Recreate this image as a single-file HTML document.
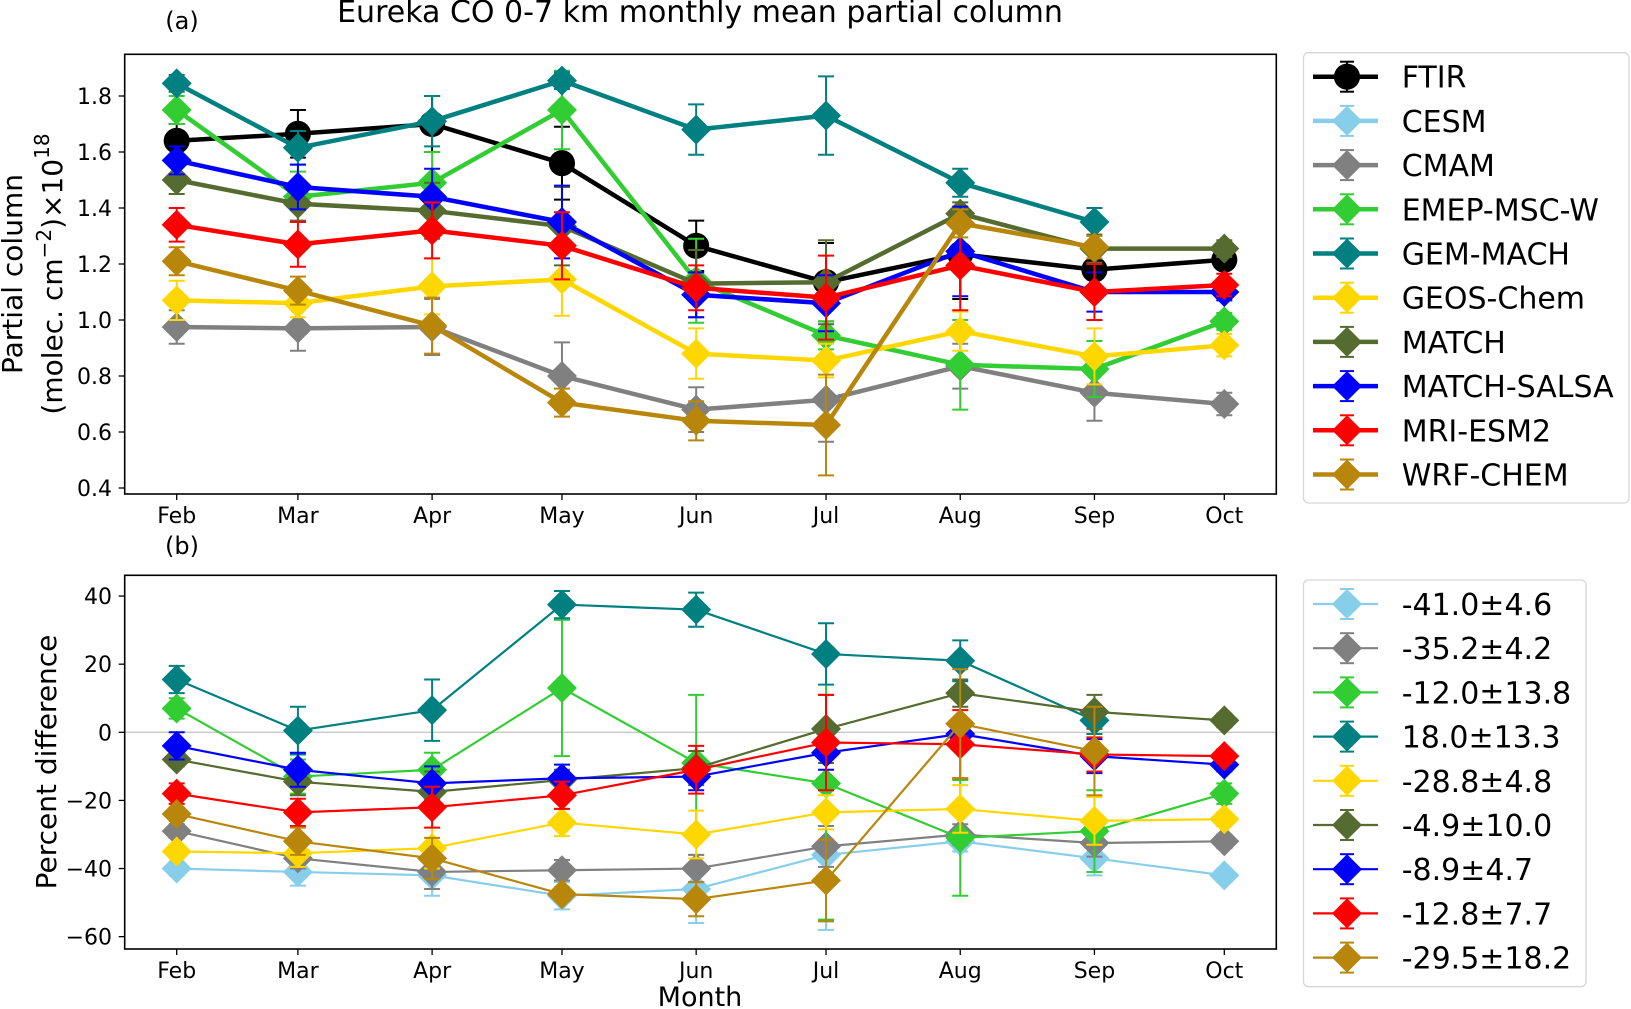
<!DOCTYPE html>
<html><head><meta charset="utf-8"><style>
body{margin:0;background:#fff;width:1631px;height:1009px;overflow:hidden}
svg{display:block;font-family:"DejaVu Sans","Liberation Sans",sans-serif}
</style></head><body>
<svg id="chart" width="1631" height="1009" viewBox="0 0 1631 1009" xmlns="http://www.w3.org/2000/svg"></svg>
<script>
const months=["Feb","Mar","Apr","May","Jun","Jul","Aug","Sep","Oct"];
const monthDays=[32,60,91,121,152,182,213,244,274];
const seriesNames=["FTIR","CESM","CMAM","EMEP-MSC-W","GEM-MACH","GEOS-Chem","MATCH","MATCH-SALSA","MRI-ESM2","WRF-CHEM"];
const colors=["#000000","#87CEEB","#808080","#32CD32","#008080","#FFD700","#556B2F","#0000FF","#FF0000","#B8860B"];
const colFTIR=[1.64,1.665,1.70,1.56,1.265,1.135,1.235,1.18,1.215];
const errFTIR=[0.06,0.085,0.1,0.13,0.09,0.14,0.16,0.08,0.03];
const colCMAM=[0.975,0.97,0.975,0.80,0.68,0.715,0.835,0.74,0.70];
const errCMAM=[0.06,0.08,0.1,0.12,0.08,0.15,0.08,0.1,0.04];
const colEMEP=[1.75,1.44,1.49,1.75,1.14,0.945,0.84,0.825,0.995];
const errEMEP=[0.05,0.09,0.11,0.14,0.15,0.05,0.16,0.1,0.03];
const colGEM=[1.845,1.615,1.71,1.855,1.68,1.73,1.49,1.35,null];
const errGEM=[0.03,0.06,0.09,0.03,0.09,0.14,0.05,0.05,null];
const colGEOS=[1.07,1.06,1.12,1.145,0.88,0.855,0.96,0.87,0.91];
const errGEOS=[0.07,0.05,0.1,0.13,0.09,0.06,0.07,0.1,0.04];
const colMATCH=[1.50,1.415,1.39,1.335,1.13,1.135,1.38,1.255,1.255];
const errMATCH=[0.05,0.06,0.1,0.14,0.12,0.15,0.04,0.05,0.03];
const colSALSA=[1.57,1.475,1.44,1.35,1.09,1.06,1.245,1.10,1.10];
const errSALSA=[0.05,0.08,0.1,0.13,0.08,0.1,0.16,0.07,0.03];
const colMRI=[1.34,1.27,1.32,1.265,1.115,1.08,1.195,1.10,1.125];
const errMRI=[0.06,0.08,0.1,0.12,0.08,0.15,0.16,0.1,0.04];
const colWRF=[1.21,1.105,0.98,0.705,0.64,0.625,1.345,1.26,null];
const errWRF=[0.05,0.05,0.1,0.05,0.07,0.18,0.05,0.04,null];
const pdCESM=[-40,-41,-42,-48,-46,-36,-32,-37,-42];
const pdCESMerr=[2,4,6,4,10,22,3,5,2];
const pdCMAM=[-29,-37,-41,-40.5,-40,-33.5,-30,-32.5,-32];
const pdCMAMerr=[2,3,5,3,4,6,3,4,2];
const pdEMEP=[7,-13,-11,13,-9,-15,-31,-29,-18];
const pdEMEPerr=[3,5,5,20,20,40,17,12,3];
const pdGEM=[15.5,0.5,6.5,37.5,36,23,21,3.5,null];
const pdGEMerr=[4,7,9,4,5,9,6,4,null];
const pdGEOS=[-35,-35.5,-34,-26.5,-30,-23.5,-22.5,-26,-25.5];
const pdGEOSerr=[2,4,6,4,7,5,7,7,2];
const pdMATCH=[-8,-14.5,-17.5,-14,-10.5,1,11.5,6,3.5];
const pdMATCHerr=[2,4,6,3,5,10,4,5,2];
const pdSALSA=[-4,-11,-15,-13.5,-13,-6,-0.5,-7,-9.5];
const pdSALSAerr=[4,5,5,4,4,5,4,5,2];
const pdMRI=[-18,-23.5,-22,-18.5,-11,-3,-3.5,-6.5,-7];
const pdMRIerr=[3,4,6,4,7,14,10,5,2];
const pdWRF=[-24,-32,-37,-47.5,-49,-43.5,2.5,-5.5,null];
const pdWRFerr=[2,4,6,2,5,12,16,13,null];
const legendB=["-41.0±4.6","-35.2±4.2","-12.0±13.8","18.0±13.3","-28.8±4.8","-4.9±10.0","-8.9±4.7","-12.8±7.7","-29.5±18.2"];
const ticksA=[0.4,0.6,0.8,1.0,1.2,1.4,1.6,1.8];
const ticksB=[-60,-40,-20,0,20,40];

const S=document.getElementById('chart');
const NS="http://www.w3.org/2000/svg";
function mk(tag,attrs,parent,name){const e=document.createElementNS(NS,tag);for(const k in attrs)e.setAttribute(k,attrs[k]);

(parent||S).appendChild(e);return e;}
function txt(x,y,s,size,anchor,name,extra){const t=mk('text',Object.assign({x:x,y:y,'font-size':size,'text-anchor':anchor||'middle',fill:'#000'},extra||{}),S,name);t.textContent=s;return t;}

const xL=124.7,xR=1276.3;
const xScale=d=>176.7+(d-32)*(1224.3-176.7)/(274-32);
const yA=v=>96+(1.8-v)*280;
const yB=v=>732.3-v*3.406;

function frame(top,bot,nm){mk('rect',{x:xL,y:top,width:xR-xL,height:bot-top,fill:'none',stroke:'#000','stroke-width':1.6},S,nm);}
mk('line',{x1:xL,x2:xR,y1:yB(0),y2:yB(0),stroke:'#c8c8c8','stroke-width':1.3},S,'zero-line');

function xTicks(bot,nm){months.forEach((m,i)=>{const x=xScale(monthDays[i]);mk('line',{x1:x,x2:x,y1:bot,y2:bot+6,stroke:'#000','stroke-width':1.3},S,nm+'-tick');txt(x,bot+29,m,22,'middle',nm+'-label');});}
ticksA.forEach(v=>{const y=yA(v);mk('line',{x1:xL-6,x2:xL,y1:y,y2:y,stroke:'#000','stroke-width':1.3},S,'y-tick-a');txt(112,y+8,v.toFixed(1),22,'end','y-tick-label-a');});
ticksB.forEach(v=>{const y=yB(v);mk('line',{x1:xL-6,x2:xL,y1:y,y2:y,stroke:'#000','stroke-width':1.3},S,'y-tick-b');txt(112,y+8,(v<0?'\u2212':'')+Math.abs(v),22,'end','y-tick-label-b');});
xTicks(494,'x-tick-a');xTicks(949,'x-tick-b');

function marker(g,x,y,col,isCircle,sz,name){
  if(isCircle)return mk('circle',{cx:x,cy:y,r:sz*0.87,fill:col},g,name);
  return mk('polygon',{points:`${x},${y-sz} ${x+sz},${y} ${x},${y+sz} ${x-sz},${y}`,fill:col},g,name);
}
function drawSeries(vals,errs,col,ys,lw,circle,name){
  const g=mk('g',{},S,name);
  const pts=[];
  vals.forEach((v,i)=>{if(v!==null)pts.push([xScale(monthDays[i]),ys(v),errs[i]]);});
  mk('polyline',{points:pts.map(p=>p[0]+','+p[1]).join(' '),fill:'none',stroke:col,'stroke-width':lw,'stroke-linejoin':'round'},g,name+'-line');
  vals.forEach((v,i)=>{if(v===null)return;const x=xScale(monthDays[i]);const e=errs[i];
    const y1=ys(v+e),y2=ys(v-e);
    mk('line',{x1:x,x2:x,y1:y1,y2:y2,stroke:col,'stroke-width':2},g,name+'-errorbar');
    mk('line',{x1:x-8,x2:x+8,y1:y1,y2:y1,stroke:col,'stroke-width':2},g,name+'-cap');
    mk('line',{x1:x-8,x2:x+8,y1:y2,y2:y2,stroke:col,'stroke-width':2},g,name+'-cap');});
  vals.forEach((v,i)=>{if(v===null)return;marker(g,xScale(monthDays[i]),ys(v),col,circle,15,name+'-marker');});
}
const topData=[[colFTIR,errFTIR,0],[colCMAM,errCMAM,2],[colEMEP,errEMEP,3],[colGEM,errGEM,4],[colGEOS,errGEOS,5],[colMATCH,errMATCH,6],[colSALSA,errSALSA,7],[colMRI,errMRI,8],[colWRF,errWRF,9]];
topData.forEach(d=>drawSeries(d[0],d[1],colors[d[2]],yA,4.5,d[2]===0,'series-a-'+seriesNames[d[2]].toLowerCase()));
const botData=[[pdCESM,pdCESMerr],[pdCMAM,pdCMAMerr],[pdEMEP,pdEMEPerr],[pdGEM,pdGEMerr],[pdGEOS,pdGEOSerr],[pdMATCH,pdMATCHerr],[pdSALSA,pdSALSAerr],[pdMRI,pdMRIerr],[pdWRF,pdWRFerr]];
botData.forEach((d,i)=>drawSeries(d[0],d[1],colors[i+1],yB,2.2,false,'series-b-'+seriesNames[i+1].toLowerCase()));
frame(54.3,494,'plot-frame-a');frame(575.3,949,'plot-frame-b');

function legend(top,bot,right,labels,cols,lw,name){
  mk('rect',{x:1303.5,y:top,width:right-1303.5,height:bot-top,rx:5,fill:'#fff',stroke:'#d6d6d6','stroke-width':1.3},S,name);
  labels.forEach((l,i)=>{const y=top+24+i*44.2;const g=mk('g',{},S,name+'-entry');
    mk('line',{x1:1313,x2:1378,y1:y,y2:y,stroke:cols[i],'stroke-width':lw},g,'legend-line');
    mk('line',{x1:1347,x2:1347,y1:y-15,y2:y+15,stroke:cols[i],'stroke-width':2},g,'legend-errorbar');
    mk('line',{x1:1340,x2:1354,y1:y-15,y2:y-15,stroke:cols[i],'stroke-width':2},g,'legend-cap');
    mk('line',{x1:1340,x2:1354,y1:y+15,y2:y+15,stroke:cols[i],'stroke-width':2},g,'legend-cap');
    marker(g,1347,y,cols[i],name==='legend-a'&&i===0,15,'legend-marker');
    txt(1401.7,y+11,l,30,'start','legend-label');});
}
legend(52.7,503,1629,seriesNames,colors,4.5,'legend-a');
legend(580,986.7,1586,legendB,colors.slice(1),2.2,'legend-b');

txt(700,22,'Eureka CO 0-7 km monthly mean partial column',30,'middle','chart-title');
txt(182,29,'(a)',24,'middle','panel-a-label');
txt(182,554,'(b)',24,'middle','panel-b-label');
txt(700,1006,'Month',27,'middle','x-axis-title');
txt(0,0,'Partial column',28,'middle','y-axis-title-a',{transform:'translate(22,274) rotate(-90)'});
const yl2=mk('text',{x:0,y:0,'font-size':28,'text-anchor':'middle',transform:'translate(62,274) rotate(-90)'},S,'y-axis-units-a');
yl2.innerHTML='(molec. cm<tspan dy="-11" font-size="20">\u22122</tspan><tspan dy="11">)\u00d710</tspan><tspan dy="-13" font-size="20">18</tspan>';
txt(0,0,'Percent difference',28,'middle','y-axis-title-b',{transform:'translate(56,762) rotate(-90)'});
</script>
</body></html>
